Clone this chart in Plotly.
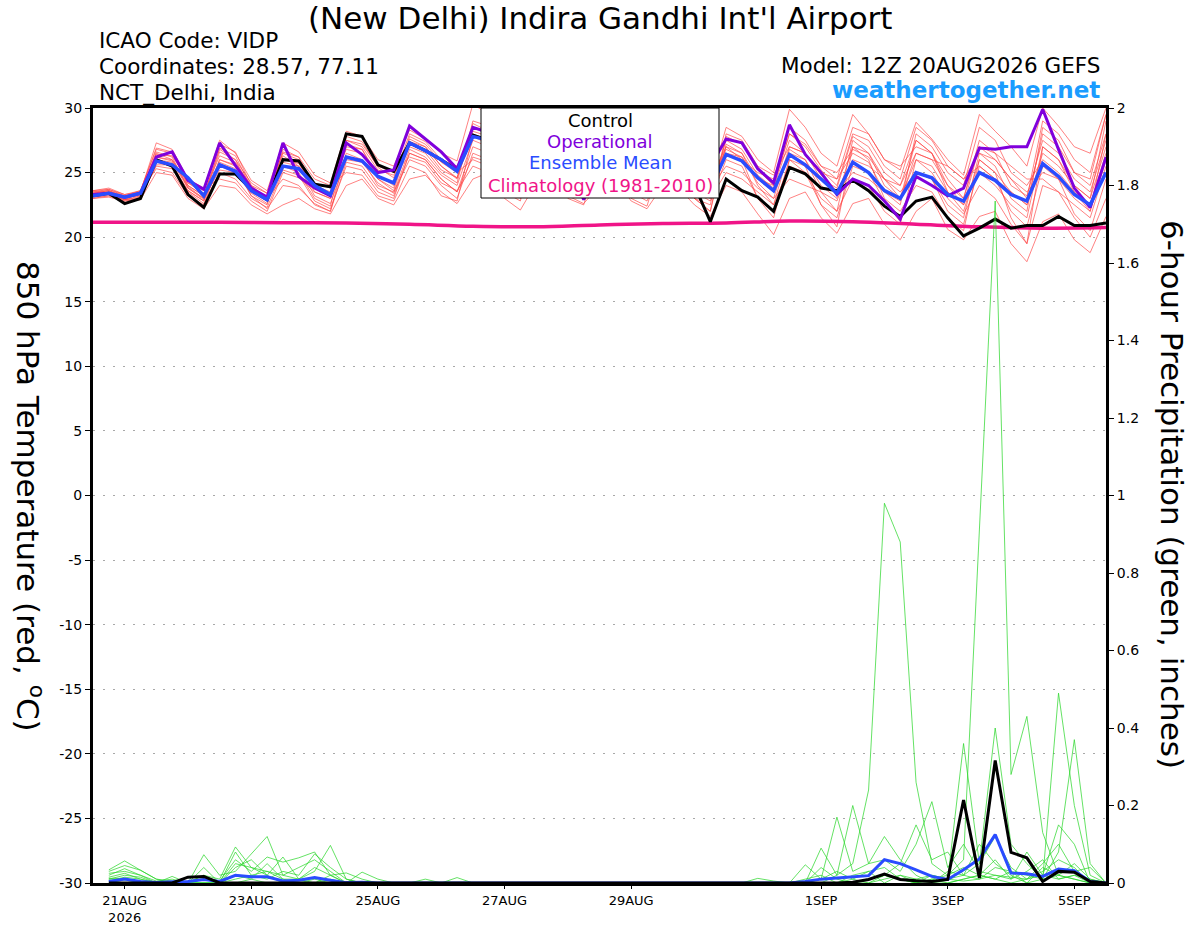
"""
 GEFS meteogram for VIDP: 850 hPa temperature ensemble and 6-hour precipitation
"""

import pandas as pd
from plotly.graph_objects import Scatter, Figure

### data ###
RUN_START = "2026-08-20 12:00"
N_STEPS = 65  # 6-hourly, 20AUG 12Z -> 5SEP 12Z

TICK_DATES = ["2026-08-21", "2026-08-23", "2026-08-25", "2026-08-27",
              "2026-08-29", "2026-09-01", "2026-09-03", "2026-09-05"]
TICK_LABELS = ["21AUG<br>2026", "23AUG", "25AUG", "27AUG",
               "29AUG", "1SEP", "3SEP", "5SEP"]

T_TICKS = [-30, -25, -20, -15, -10, -5, 0, 5, 10, 15, 20, 25, 30]
T_TICK_TEXT = ["-30", "-25", "-20", "-15", "-10", "-5", "0",
               "5", "10", "15", "20", "25", "30"]
P_TICKS = [0, 0.2, 0.4, 0.6, 0.8, 1.0, 1.2, 1.4, 1.6, 1.8, 2.0]
P_TICK_TEXT = ["0", "0.2", "0.4", "0.6", "0.8", "1", "1.2", "1.4", "1.6", "1.8", "2"]

# 850 hPa temperature, deg C
control_t = [23.2, 23.4, 22.6, 23.0, 26.0, 25.5, 23.3, 22.3, 24.9, 24.9, 23.7, 22.9,
             26.0, 25.9, 24.1, 23.9, 28.0, 27.8, 25.6, 25.1, 27.3, 26.7, 26.0, 25.2,
             27.9, 27.5, 26.3, 25.2, 24.6, 27.0, 26.5, 25.0, 24.3, 26.6, 26.0, 24.8,
             24.2, 25.8, 24.0, 21.2, 24.5, 23.6, 23.1, 22.0, 25.4, 24.9, 23.8, 23.6,
             24.4, 23.6, 22.4, 21.6, 22.8, 23.1, 21.5, 20.1, 20.7, 21.4, 20.7, 20.9,
             20.9, 21.6, 20.9, 20.9, 21.1]
oper_t = [23.3, 23.4, 23.1, 23.4, 26.2, 26.6, 24.4, 23.7, 27.3, 25.5, 23.8, 23.1,
          27.3, 24.7, 23.8, 23.2, 27.3, 26.4, 25.0, 25.2, 28.6, 27.6, 26.6, 25.3,
          28.5, 28.1, 27.0, 26.0, 25.5, 27.5, 26.0, 22.9, 25.5, 27.0, 26.2, 25.0,
          24.6, 26.8, 26.0, 25.5, 27.6, 27.3, 25.3, 24.2, 28.7, 26.4, 25.0, 23.3,
          24.5, 24.0, 22.8, 21.4, 24.7, 24.0, 23.2, 23.8, 26.9, 26.8, 27.0, 27.0,
          29.9, 26.8, 23.8, 22.3, 26.2]
mean_t = [23.2, 23.4, 23.1, 23.4, 25.9, 25.6, 24.6, 23.2, 25.6, 25.1, 23.6, 22.9,
          25.5, 25.3, 24.0, 23.3, 26.2, 25.9, 24.7, 24.2, 27.3, 26.7, 26.0, 25.1,
          27.8, 27.5, 26.6, 25.6, 25.0, 27.2, 26.6, 25.4, 24.7, 26.8, 26.2, 25.2,
          24.6, 26.5, 25.5, 23.8, 26.4, 25.9, 24.6, 23.6, 26.4, 25.6, 24.5, 23.4,
          25.8, 25.0, 23.6, 23.0, 25.0, 24.6, 23.3, 22.8, 25.0, 24.4, 23.3, 22.8,
          25.7, 24.7, 23.3, 22.5, 25.0]

# climatology (1981-2010), daily at 12Z
clim_dates = pd.date_range(RUN_START, periods=17, freq="1D")
clim_t = [21.15, 21.15, 21.15, 21.12, 21.1, 21.0, 20.85, 20.8, 20.95, 21.05,
          21.1, 21.25, 21.2, 21.0, 20.8, 20.7, 20.75]

# ensemble members (red)
members_t = [
    [23.6, 23.8, 23.3, 23.5, 27.3, 26.8, 24.5, 23.8, 27.5, 26.5, 24.4, 23.6,
     27.3, 26.6, 24.8, 24.2, 28.2, 27.8, 26.0, 25.5, 28.3, 27.6, 26.5, 25.9,
     30.3, 29.5, 27.0, 26.0, 28.0, 27.4, 26.0, 25.2, 28.0, 27.5, 25.8, 25.0,
     27.8, 27.0, 25.0, 24.2, 28.5, 27.8, 26.0, 25.0, 29.9, 28.5, 26.5, 25.5,
     29.5, 28.0, 26.0, 25.2, 28.9, 27.6, 26.0, 24.8, 29.5, 28.2, 27.0, 25.5,
     30.0, 28.6, 27.0, 26.5, 30.0],
    [23.0, 23.1, 22.8, 22.9, 25.0, 24.8, 23.0, 22.2, 24.0, 23.8, 22.5, 21.8,
     22.5, 23.0, 22.2, 21.8, 24.0, 24.5, 23.0, 22.5, 24.5, 24.8, 23.5, 22.6,
     24.5, 25.0, 23.0, 22.1, 24.2, 24.8, 23.2, 22.6, 24.0, 24.5, 22.8, 22.2,
     24.0, 23.8, 22.5, 21.6, 24.0, 23.5, 21.8, 20.2, 23.0, 23.5, 21.5, 20.3,
     22.6, 23.0, 21.0, 19.8, 22.0, 23.0, 20.6, 19.8, 21.6, 22.0, 19.5, 18.1,
     21.2, 21.8, 19.8, 18.8, 21.6],
    [23.4, 23.6, 23.0, 23.3, 26.5, 26.0, 24.0, 23.2, 26.8, 26.0, 23.5, 22.8,
     26.0, 25.8, 23.5, 23.0, 27.0, 26.8, 24.8, 24.0, 27.6, 27.0, 25.5, 24.6,
     28.5, 28.0, 25.8, 24.5, 27.0, 26.6, 25.0, 24.2, 26.8, 26.5, 24.8, 24.0,
     27.0, 26.0, 24.5, 23.5, 27.5, 26.8, 24.8, 23.8, 27.5, 26.5, 24.5, 23.8,
     27.8, 27.0, 25.0, 24.0, 27.5, 26.5, 24.5, 23.0, 27.0, 26.5, 24.0, 23.2,
     27.5, 26.5, 24.5, 23.5, 27.5],
    [23.2, 23.3, 22.9, 23.1, 25.5, 25.3, 23.5, 22.6, 25.0, 24.5, 23.0, 22.3,
     25.2, 24.8, 22.8, 22.2, 25.5, 25.2, 23.5, 23.0, 26.5, 26.0, 24.5, 23.5,
     27.0, 26.5, 24.2, 23.0, 26.0, 25.5, 23.8, 23.0, 26.0, 25.5, 23.5, 22.8,
     25.5, 25.0, 23.5, 22.8, 26.0, 25.5, 23.0, 22.0, 26.0, 25.0, 22.5, 21.5,
     25.5, 25.0, 22.8, 21.2, 25.0, 24.5, 22.0, 21.0, 25.5, 24.5, 22.0, 20.8,
     25.5, 24.5, 21.8, 20.5, 24.5],
    [23.5, 23.7, 23.2, 23.6, 26.8, 26.5, 24.2, 23.6, 27.2, 26.6, 24.0, 23.4,
     26.5, 26.0, 24.0, 23.5, 27.5, 27.0, 25.2, 24.8, 27.0, 26.5, 25.0, 24.2,
     29.0, 28.6, 26.5, 25.5, 27.5, 27.0, 25.5, 24.8, 27.5, 27.0, 25.5, 24.6,
     27.5, 26.8, 24.8, 24.0, 26.5, 26.0, 25.0, 24.5, 28.5, 27.5, 25.5, 24.5,
     26.5, 25.8, 23.5, 22.5, 28.0, 27.0, 25.0, 24.0, 28.5, 27.5, 25.0, 24.0,
     26.0, 25.0, 23.5, 22.5, 26.5],
    [23.3, 23.5, 23.1, 23.2, 26.0, 25.8, 23.8, 22.9, 26.0, 25.5, 23.8, 23.0,
     24.5, 24.0, 22.5, 22.0, 26.5, 26.0, 24.0, 23.5, 26.0, 25.5, 24.0, 23.0,
     26.5, 26.0, 24.5, 23.5, 25.5, 25.0, 24.0, 23.5, 25.5, 25.0, 23.0, 22.4,
     26.5, 25.5, 23.8, 23.0, 25.0, 24.5, 23.5, 22.5, 25.5, 25.0, 23.0, 22.0,
     24.5, 24.0, 22.0, 21.0, 26.0, 25.0, 23.0, 21.8, 24.0, 23.0, 21.0, 19.5,
     24.0, 23.5, 21.5, 20.0, 23.0],
    [23.4, 23.5, 22.9, 23.4, 26.2, 26.0, 24.2, 23.4, 26.3, 25.8, 24.0, 23.0,
     25.8, 25.5, 24.2, 23.8, 26.8, 26.5, 24.5, 23.8, 27.8, 27.2, 25.8, 25.0,
     26.0, 25.5, 24.0, 23.5, 26.5, 26.0, 24.8, 24.0, 27.0, 26.5, 24.5, 23.5,
     26.0, 25.5, 24.0, 23.2, 27.0, 26.5, 24.5, 23.5, 26.5, 26.0, 24.0, 23.0,
     27.0, 26.5, 24.5, 23.5, 25.0, 24.5, 22.5, 21.5, 26.5, 25.5, 23.0, 22.0,
     28.5, 27.5, 25.0, 24.0, 28.0],
    [23.1, 23.2, 22.8, 23.0, 25.8, 25.5, 23.6, 22.8, 25.5, 25.0, 23.4, 22.6,
     26.3, 25.5, 23.2, 22.6, 26.0, 25.8, 24.2, 23.4, 26.8, 26.2, 24.8, 24.0,
     27.5, 27.0, 24.8, 23.8, 25.0, 24.5, 23.0, 22.5, 26.5, 26.0, 24.2, 23.5,
     25.0, 24.5, 23.0, 22.5, 28.0, 27.5, 25.5, 24.8, 27.0, 26.5, 25.0, 24.5,
     28.5, 28.0, 26.0, 25.5, 27.0, 26.5, 24.0, 22.5, 25.0, 24.0, 22.5, 21.5,
     27.0, 26.0, 24.0, 23.0, 29.0],
    [23.5, 23.6, 23.1, 23.5, 25.3, 25.0, 23.2, 22.5, 25.8, 25.3, 23.2, 22.5,
     26.8, 26.2, 24.5, 24.0, 25.0, 24.8, 23.2, 22.8, 25.5, 25.0, 23.2, 22.8,
     27.8, 27.2, 25.0, 24.0, 26.8, 26.2, 24.5, 23.8, 25.0, 24.5, 24.0, 23.5,
     26.8, 26.2, 24.6, 23.8, 25.5, 25.0, 23.8, 23.0, 24.5, 24.0, 23.5, 22.8,
     26.0, 25.5, 24.5, 24.0, 26.5, 26.0, 24.0, 23.0, 27.5, 26.5, 25.5, 24.5,
     24.5, 23.5, 22.5, 21.5, 25.5],
    [23.2, 23.4, 23.0, 23.3, 26.6, 26.2, 23.8, 23.0, 26.6, 26.0, 24.2, 23.4,
     25.5, 25.0, 23.0, 22.4, 27.5, 27.2, 25.5, 25.0, 26.2, 25.8, 24.2, 23.6,
     25.5, 25.0, 23.5, 22.8, 27.8, 27.0, 25.5, 25.0, 26.0, 25.8, 24.5, 23.8,
     27.5, 27.0, 25.0, 24.5, 27.0, 26.0, 23.0, 21.5, 26.0, 25.5, 22.5, 20.8,
     27.0, 26.0, 23.0, 22.0, 24.0, 23.5, 21.5, 20.5, 26.0, 25.0, 23.5, 22.5,
     26.5, 25.5, 24.0, 23.0, 27.0],
    [23.3, 23.3, 22.9, 23.2, 26.4, 26.3, 24.4, 23.8, 24.5, 24.2, 22.8, 22.0,
     25.0, 24.6, 23.5, 23.0, 26.2, 26.0, 24.6, 24.2, 27.2, 26.8, 25.2, 24.6,
     28.0, 27.5, 26.0, 25.2, 26.2, 25.8, 24.5, 23.8, 26.5, 26.2, 25.2, 24.5,
     26.2, 25.8, 24.2, 23.0, 26.5, 26.2, 24.2, 23.0, 27.0, 26.5, 24.8, 23.5,
     25.0, 24.5, 23.5, 22.8, 26.5, 26.0, 25.5, 24.5, 26.5, 26.0, 24.5, 23.5,
     25.0, 24.5, 23.0, 22.0, 26.0],
    [23.6, 23.7, 23.3, 23.6, 26.9, 26.6, 24.0, 23.2, 26.9, 26.3, 23.8, 22.9,
     26.6, 26.2, 23.8, 23.2, 27.2, 26.8, 24.5, 23.6, 27.4, 27.0, 25.5, 24.5,
     28.8, 28.2, 26.0, 24.8, 27.2, 26.5, 25.2, 24.5, 27.2, 26.8, 25.0, 24.2,
     26.0, 25.2, 23.0, 22.0, 27.8, 27.2, 25.2, 24.0, 28.0, 27.2, 25.5, 25.0,
     26.8, 26.2, 24.5, 23.0, 26.0, 25.5, 23.5, 22.5, 27.0, 26.0, 24.5, 23.0,
     29.0, 28.0, 26.0, 25.0, 29.5],
    [23.0, 23.2, 22.9, 23.0, 25.6, 25.6, 23.6, 22.8, 26.0, 25.6, 23.2, 22.2,
     24.0, 23.8, 22.6, 22.0, 25.8, 25.5, 23.8, 23.2, 26.5, 26.0, 24.5, 23.5,
     26.2, 25.8, 24.0, 23.2, 26.0, 25.6, 24.2, 23.5, 26.2, 25.6, 24.0, 23.2,
     25.0, 24.5, 23.0, 22.0, 27.2, 26.5, 24.0, 22.5, 26.8, 26.0, 23.5, 22.0,
     27.5, 26.5, 24.0, 23.0, 27.5, 26.5, 23.5, 22.0, 26.0, 25.0, 21.5, 19.5,
     27.0, 26.0, 23.5, 22.0, 28.0],
    [23.4, 23.6, 23.2, 23.4, 26.2, 25.9, 23.9, 23.0, 25.2, 25.0, 23.6, 23.1,
     26.0, 25.7, 24.0, 23.4, 27.8, 27.4, 25.4, 24.6, 28.0, 27.4, 26.0, 25.5,
     28.2, 27.8, 25.5, 24.8, 26.8, 26.4, 25.0, 24.4, 27.4, 27.0, 25.5, 25.0,
     27.2, 26.6, 24.8, 24.2, 26.8, 26.2, 24.5, 24.0, 28.0, 27.0, 25.2, 24.0,
     28.0, 27.5, 25.5, 24.5, 28.5, 27.5, 25.5, 24.5, 25.5, 24.5, 23.5, 22.5,
     28.0, 27.0, 25.0, 24.5, 29.5],
]

# 6-hour precipitation, inches (20AUG 18Z -> 5SEP 12Z)
control_p = [0, 0, 0, 0, 0, 0.015, 0.017, 0,
             0, 0, 0, 0, 0, 0, 0, 0,
             0, 0, 0, 0, 0, 0, 0, 0,
             0, 0, 0, 0, 0, 0, 0, 0,
             0, 0, 0, 0, 0, 0, 0, 0,
             0, 0, 0, 0, 0, 0, 0, 0.002,
             0.009, 0.023, 0.009, 0.006, 0.004, 0.009, 0.214, 0.013,
             0.316, 0.079, 0.065, 0.004, 0.030, 0.028, 0.004, 0]
mean_p = [0.004, 0.010, 0.004, 0.001, 0.003, 0.004, 0.009, 0.004,
          0.020, 0.016, 0.016, 0.005, 0.007, 0.014, 0.007, 0.001,
          0.002, 0, 0, 0, 0, 0, 0, 0,
          0, 0, 0, 0, 0, 0, 0, 0,
          0, 0, 0, 0, 0, 0, 0, 0,
          0, 0, 0, 0, 0.004, 0.010, 0.013, 0.016,
          0.019, 0.060, 0.050, 0.034, 0.017, 0.009, 0.034, 0.062,
          0.125, 0.026, 0.024, 0.017, 0.036, 0.032, 0.004, 0]

members_p = [
    [0.034, 0.057, 0.033, 0.010, 0.005, 0.002, 0.020, 0.010,
     0.093, 0.040, 0.020, 0.067, 0.010, 0, 0.020, 0,
     0, 0, 0, 0, 0, 0, 0, 0,
     0, 0, 0, 0, 0, 0, 0, 0,
     0, 0, 0, 0, 0, 0, 0, 0,
     0, 0, 0, 0, 0, 0, 0.020, 0.050,
     0.240, 0.980, 0.880, 0.260, 0.050, 0.020, 0.040, 0.020,
     0.010, 0.030, 0, 0.010, 0.020, 0.010, 0, 0],
    [0.020, 0.037, 0.020, 0.005, 0.010, 0, 0.073, 0.020,
     0.030, 0.076, 0.120, 0.020, 0.010, 0.030, 0.097, 0.010,
     0, 0, 0, 0, 0, 0, 0, 0,
     0, 0, 0, 0, 0, 0, 0, 0,
     0, 0, 0, 0, 0, 0, 0, 0,
     0, 0, 0, 0, 0, 0, 0, 0,
     0.010, 0.020, 0.010, 0, 0.010, 0.020, 0.060, 0.920,
     1.760, 0.280, 0.430, 0.130, 0.020, 0.010, 0, 0],
    [0.030, 0.045, 0.033, 0.010, 0, 0, 0.010, 0.005,
     0.060, 0.030, 0.067, 0.054, 0.065, 0.080, 0.020, 0.026,
     0.010, 0, 0, 0, 0.010, 0, 0, 0,
     0, 0, 0, 0, 0, 0, 0, 0,
     0, 0, 0, 0, 0, 0, 0, 0,
     0, 0.012, 0.005, 0, 0, 0.040, 0.010, 0,
     0.010, 0.020, 0.010, 0, 0.020, 0.010, 0.360, 0.050,
     0.400, 0.100, 0.050, 0.010, 0.490, 0.200, 0.020, 0],
    [0.025, 0.030, 0.020, 0, 0.017, 0, 0.040, 0,
     0.050, 0.040, 0.030, 0.020, 0.040, 0.060, 0.030, 0,
     0.028, 0.010, 0, 0, 0, 0, 0.014, 0,
     0, 0, 0, 0, 0, 0, 0, 0,
     0, 0, 0, 0, 0, 0, 0, 0,
     0, 0, 0, 0, 0.047, 0.010, 0.170, 0.030,
     0.050, 0.120, 0.060, 0.020, 0, 0.010, 0.020, 0.010,
     0.040, 0.030, 0.020, 0.010, 0.080, 0.370, 0.050, 0],
    [0.015, 0.025, 0.010, 0, 0, 0, 0.010, 0,
     0.080, 0.020, 0.010, 0.030, 0.020, 0.075, 0.040, 0.010,
     0, 0, 0, 0, 0, 0, 0, 0,
     0, 0, 0, 0, 0, 0, 0, 0,
     0, 0, 0, 0, 0, 0, 0, 0,
     0, 0, 0, 0, 0, 0.090, 0.020, 0.200,
     0.050, 0.060, 0.030, 0.100, 0.210, 0.040, 0.100, 0.030,
     0.020, 0.010, 0.080, 0.020, 0.150, 0.100, 0, 0],
    [0.010, 0.020, 0.015, 0, 0, 0, 0, 0,
     0.040, 0.060, 0.020, 0, 0, 0.010, 0, 0,
     0, 0, 0, 0, 0, 0, 0, 0,
     0, 0, 0, 0, 0, 0, 0, 0,
     0, 0, 0, 0, 0, 0, 0, 0,
     0, 0, 0, 0, 0, 0, 0, 0,
     0.010, 0.020, 0.050, 0.150, 0.060, 0.080, 0.020, 0.050,
     0.120, 0.040, 0.010, 0.050, 0.100, 0.030, 0.040, 0],
    [0.005, 0.015, 0.010, 0, 0, 0, 0.020, 0,
     0.020, 0.010, 0.050, 0.010, 0, 0, 0.010, 0,
     0, 0, 0, 0, 0, 0, 0, 0,
     0, 0, 0, 0, 0, 0, 0, 0,
     0, 0, 0, 0, 0, 0, 0, 0,
     0, 0, 0, 0, 0.010, 0.020, 0, 0.010,
     0.030, 0, 0.020, 0.010, 0, 0.030, 0.020, 0.100,
     0.050, 0.020, 0, 0.040, 0.020, 0.050, 0.010, 0],
    [0.010, 0.010, 0.005, 0, 0, 0, 0, 0,
     0.010, 0.020, 0.030, 0.010, 0.010, 0.040, 0.020, 0,
     0, 0, 0, 0, 0, 0, 0, 0,
     0, 0, 0, 0, 0, 0, 0, 0,
     0, 0, 0, 0, 0, 0, 0, 0,
     0, 0, 0, 0, 0, 0, 0, 0.020,
     0.030, 0.040, 0.010, 0, 0.010, 0, 0.010, 0.020,
     0.060, 0.010, 0.030, 0.060, 0.010, 0.020, 0, 0],
    [0.012, 0.012, 0, 0, 0, 0, 0, 0,
     0, 0.010, 0, 0, 0, 0, 0, 0,
     0, 0, 0, 0, 0, 0, 0, 0,
     0, 0, 0, 0, 0, 0, 0, 0,
     0, 0, 0, 0, 0, 0, 0, 0,
     0, 0, 0, 0, 0, 0, 0, 0,
     0, 0.020, 0.010, 0.010, 0.020, 0.010, 0.005, 0.010,
     0.020, 0.015, 0.010, 0.030, 0.060, 0.040, 0, 0],
    [0, 0.008, 0, 0, 0, 0, 0, 0,
     0, 0, 0, 0, 0, 0, 0, 0,
     0, 0, 0, 0, 0, 0, 0, 0,
     0, 0, 0, 0, 0, 0, 0, 0,
     0, 0, 0, 0, 0, 0, 0, 0,
     0, 0, 0, 0, 0, 0.010, 0.030, 0.010,
     0, 0.010, 0.020, 0, 0, 0, 0.010, 0.020,
     0.010, 0, 0.010, 0.020, 0.010, 0.020, 0.010, 0],
]

#### styles
RED = "rgba(255,70,70,0.85)"
GREEN = "rgba(40,215,40,0.9)"
PURPLE = "#8000dc"
BLUE = "#2a4cff"
PINK = "#f01488"
FONT = "DejaVu Sans"

# plot area in pixels (1200x927 page)
L, R, T, B = 93, 1106, 108, 883


def px(xp, yp):
    """pixel position -> paper coordinates"""
    return (xp - L) / (R - L), (B - yp) / (B - T)


def main():
    """
     builds the meteogram and writes out.html
    """
    times = pd.date_range(RUN_START, periods=N_STEPS, freq="6h")
    ptimes = times[1:]

    fig = Figure()

    for m in members_t:
        fig.add_trace(Scatter(x=times, y=m, mode="lines",
                              line={"color": RED, "width": 0.8}, hoverinfo="skip"))
    for m in members_p:
        fig.add_trace(Scatter(x=ptimes, y=m, mode="lines", yaxis="y2",
                              line={"color": GREEN, "width": 0.8}, hoverinfo="skip"))

    fig.add_trace(Scatter(x=clim_dates, y=clim_t, mode="lines",
                          line={"color": PINK, "width": 3.5, "shape": "spline"}))
    fig.add_trace(Scatter(x=ptimes, y=mean_p, mode="lines", yaxis="y2",
                          line={"color": BLUE, "width": 3}))
    fig.add_trace(Scatter(x=ptimes, y=control_p, mode="lines", yaxis="y2",
                          line={"color": "black", "width": 3}))
    fig.add_trace(Scatter(x=times, y=control_t, mode="lines",
                          line={"color": "black", "width": 3}))
    fig.add_trace(Scatter(x=times, y=oper_t, mode="lines",
                          line={"color": PURPLE, "width": 3}))
    fig.add_trace(Scatter(x=times, y=mean_t, mode="lines",
                          line={"color": BLUE, "width": 3.5}))

    tick_font = {"family": FONT, "size": 14, "color": "black"}
    fig.update_layout(
        width=1200, height=927,
        margin={"l": L, "r": 1200 - R, "t": T, "b": 927 - B},
        paper_bgcolor="white", plot_bgcolor="white",
        showlegend=False,
        font={"family": FONT, "color": "black"},
        xaxis={"type": "date", "range": [times[0], times[-1]],
               "tickvals": TICK_DATES, "ticktext": TICK_LABELS,
               "ticks": "outside", "ticklen": 3, "tickcolor": "black",
               "showgrid": False, "zeroline": False, "automargin": False,
               "showline": True, "linewidth": 3, "linecolor": "black",
               "mirror": True,
               "tickfont": {"family": FONT, "size": 13, "color": "black"}},
        yaxis={"range": [-30, 30], "tickvals": T_TICKS, "ticktext": T_TICK_TEXT,
               "ticks": "outside", "ticklen": 5, "tickcolor": "black",
               "showgrid": True, "gridcolor": "#a8a8a8", "griddash": "2px,8px",
               "gridwidth": 1, "zeroline": False, "automargin": False,
               "showline": True, "linewidth": 3, "linecolor": "black",
               "mirror": True, "tickfont": tick_font},
        yaxis2={"range": [0, 2], "overlaying": "y", "side": "right",
                "tickvals": P_TICKS, "ticktext": P_TICK_TEXT,
                "ticks": "outside", "ticklen": 5, "tickcolor": "black",
                "showgrid": False, "zeroline": False, "automargin": False,
                "showline": True, "linewidth": 3, "linecolor": "black",
                "tickfont": tick_font},
    )

    # legend box (covers the lines behind it)
    x0, y0 = px(481, 198)
    x1, y1 = px(719, 108)
    fig.add_shape(type="rect", xref="paper", yref="paper", x0=x0, y0=y0, x1=x1, y1=y1,
                  fillcolor="white", line={"color": "black", "width": 1}, layer="above")
    legend_rows = [("Control", "black", 121), ("Operational", PURPLE, 142),
                   ("Ensemble Mean", BLUE, 163), ("Climatology (1981-2010)", PINK, 185)]
    for text, col, yp in legend_rows:
        ax, ay = px(600, yp)
        fig.add_annotation(x=ax, y=ay, xref="paper", yref="paper", text=text,
                           showarrow=False, xanchor="center", yanchor="middle",
                           font={"family": FONT, "size": 18, "color": col})

    # titles and header text
    texts = [
        ("(New Delhi) Indira Gandhi Int'l Airport", 600, 18, "center", 31, "black", 0),
        ("ICAO Code: VIDP", 97, 40, "left", 21.5, "black", 0),
        ("Coordinates: 28.57, 77.11", 97, 66, "left", 21.5, "black", 0),
        ("NCT_Delhi, India", 97, 93, "left", 21.5, "black", 0),
        ("Model: 12Z 20AUG2026 GEFS", 1102, 65, "right", 21.5, "black", 0),
        ("<b>weathertogether.net</b>", 1102, 90, "right", 23, "#1a9cff", 0),
        ("850 hPa Temperature (red, <sup>o</sup>C)", 30, 496, "center", 31, "black", 90),
        ("6-hour Precipitation (green, inches)", 1172, 494, "center", 31, "black", 90),
    ]
    for text, xp, yp, anchor, size, col, angle in texts:
        ax, ay = px(xp, yp)
        fig.add_annotation(x=ax, y=ay, xref="paper", yref="paper", text=text,
                           showarrow=False, xanchor=anchor, yanchor="middle",
                           textangle=angle,
                           font={"family": FONT, "size": size, "color": col})

    # drop the default page margin so the 1200x927 figure fills the window
    fig.write_html("out.html", config={"displayModeBar": False},
                   post_script="document.body.style.margin='0px';")


if __name__ == "__main__":
    main()
